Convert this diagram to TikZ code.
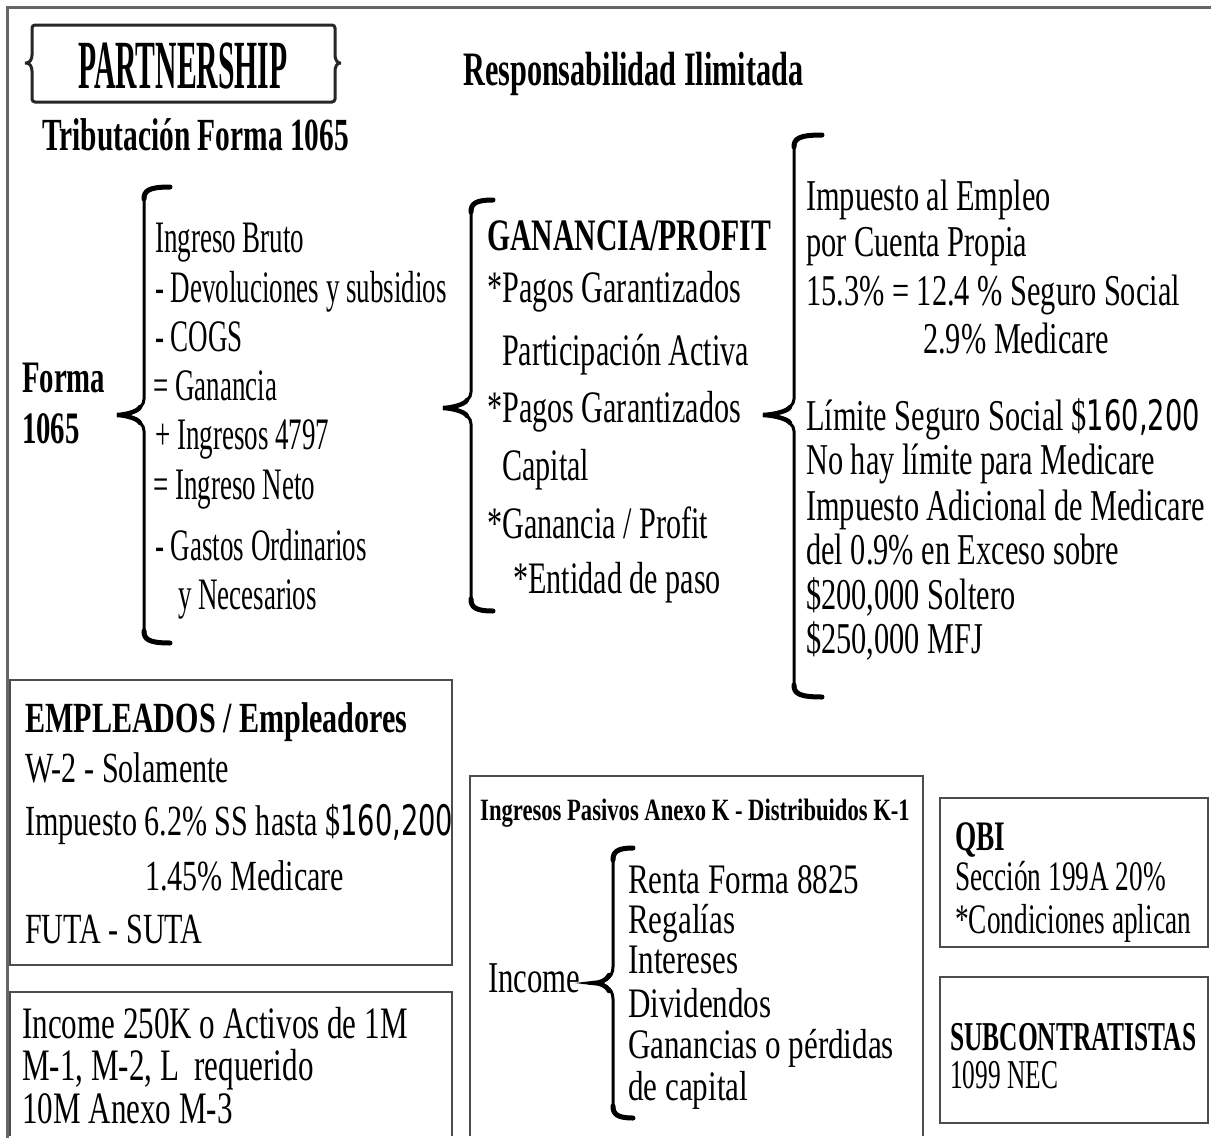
\documentclass[tikz,border=0pt]{standalone}
\usepackage{fontspec}
\setmainfont{Liberation Serif}
\newfontfamily\ffTitle{Liberation Serif}[FakeStretch=0.43]
\newfontfamily\ffA{Liberation Serif}[FakeStretch=0.60]
\newfontfamily\ffB{Liberation Serif}[FakeStretch=0.64]
\newfontfamily\ffC{Liberation Serif}[FakeStretch=0.63]
\newfontfamily\ffD{Liberation Serif}[FakeStretch=0.66]
\newfontfamily\ffE{Liberation Serif}[FakeStretch=0.67]
\newfontfamily\ffF{Liberation Serif}[FakeStretch=0.69]
\newfontfamily\ffG{Liberation Serif}[FakeStretch=0.70]
\newfontfamily\ffH{Liberation Serif}[FakeStretch=0.73]
\newfontfamily\ffM{Liberation Serif}[FakeStretch=0.74]
\newfontfamily\ffJ{Liberation Serif}[FakeStretch=0.65]
\newfontfamily\ffK{Liberation Serif}[FakeStretch=0.62]
\newfontfamily\ffDig{DejaVu Sans}[FakeStretch=0.65]
\newcommand\fz[1]{\fontsize{#1}{#1}\selectfont}
\newcommand\digs[1]{{\ffDig\fz{42}#1}}
% brace: #1 x of ends, #2 x of body, #3 x of tip, #4 y top, #5 y tip, #6 y bottom
\newcommand\mybrace[6]{%
  \draw[brc] (#1,#4) .. controls ({#2+4},#4) and (#2,{#4+4}) .. (#2,{#4+16})
    -- (#2,{#5-16}) .. controls (#2,{#5-4}) and ({#3+8},#5) .. (#3,#5)
    .. controls ({#3+8},#5) and (#2,{#5+4}) .. (#2,{#5+16})
    -- (#2,{#6-16}) .. controls (#2,{#6-4}) and ({#2+4},#6) .. (#1,#6);
  \draw[brc,line width=5pt] (#1,#4) .. controls ({#2+4},#4) and (#2,{#4+4}) .. (#2,{#4+12});
  \draw[brc,line width=5pt] (#1,#6) .. controls ({#2+4},#6) and (#2,{#6-4}) .. (#2,{#6-12});
  \draw[brc,line width=4.5pt] ({#2-4},{#5-8}) .. controls ({#2-6},{#5-3}) and ({#3+6},#5) .. (#3,#5)
    .. controls ({#3+6},#5) and ({#2-6},{#5+3}) .. ({#2-4},{#5+8});
}
\begin{document}
\begin{tikzpicture}[x=1pt,y=-1pt,
  txt/.style={inner sep=0pt,anchor=base west},
  boxl/.style={draw=black!70,line width=2.5pt},
  frm/.style={draw=black!60,line width=3pt},
  brc/.style={draw=black,line width=3pt,line cap=round}]
\useasboundingbox (0,0) rectangle (1211,1138);
\fill[white] (0,0) rectangle (1211,1138);

% outer frame
\coordinate (fa) at (7,1138);
\coordinate (fb) at (7,7);
\coordinate (fc) at (1211,7);
\draw[frm] (fa) -- (fb) -- (fc);

% title
\node[txt,font=\ffTitle\bfseries\fz{69}] (title) at (78,88) {PARTNERSHIP};
\draw[draw=black!85,line width=3pt,rounded corners=3pt]
  (32,25) -- (335,25) -- (335,52) .. controls (335,59) and (337,63) .. (343,63)
  .. controls (337,63) and (335,67) .. (335,74) -- (335,102) -- (32,102) -- (32,74)
  .. controls (32,67) and (30,63) .. (23,63) .. controls (30,63) and (32,59) .. (32,52) -- cycle;
\node[txt,font=\ffB\bfseries\fz{46}] (trib) at (42,150) {Tributación Forma 1065};
\node[txt,font=\ffC\bfseries\fz{48}] (resp) at (463,85) {Responsabilidad Ilimitada};

% Forma 1065
\node[txt,font=\ffB\bfseries\fz{45}] (forma) at (22,392) {Forma};
\node[txt,font=\ffB\bfseries\fz{45}] (f1065) at (22,443) {1065};
\mybrace{170}{144}{117}{187}{415}{643}

% left list
\begin{scope}[every node/.style={txt,font=\ffA\fz{45}}]
\node (l1) at (155,252) {Ingreso Bruto};
\node (l2) at (155,302) {- Devoluciones y subsidios};
\node (l3) at (155,351) {- COGS};
\node (l4) at (153,400) {= Ganancia};
\node (l5) at (155,449) {+ Ingresos 4797};
\node (l6) at (153,499) {= Ingreso Neto};
\node (l7) at (155,560) {- Gastos Ordinarios};
\node (l8) at (178,609) {y Necesarios};
\end{scope}

% middle brace and list
\mybrace{493}{471}{443}{200}{408}{611}
\node[txt,font=\ffD\bfseries\fz{45}] (m0) at (487,250) {GANANCIA/PROFIT};
\begin{scope}[every node/.style={txt,font=\ffE\fz{45}}]
\node (m1) at (487,302) {*Pagos Garantizados};
\node (m2) at (502,365) {Participación Activa};
\node (m3) at (487,422) {*Pagos Garantizados};
\node (m4) at (502,480) {Capital};
\node (m5) at (487,538) {*Ganancia / Profit};
\node (m6) at (513,593) {*Entidad de paso};
\end{scope}

% right brace and list
\mybrace{822}{794}{763}{135}{415}{697}
\begin{scope}[every node/.style={txt,font=\ffF\fz{44}}]
\node (r1) at (806,210) {Impuesto al Empleo};
\node (r2) at (806,256) {por Cuenta Propia};
\node (r3) at (806,305) {15.3\% = 12.4 \% Seguro Social};
\node (r4) at (923,353) {2.9\% Medicare};
\node (r5) at (806,430) {Límite Seguro Social \$\digs{160,200}};
\node (r6) at (806,474) {No hay límite para Medicare};
\node (r7) at (806,520) {Impuesto Adicional de Medicare};
\node (r8) at (806,564) {del 0.9\% en Exceso sobre};
\node (r9) at (806,609) {\$200,000 Soltero};
\node (r10) at (806,653) {\$250,000 MFJ};
\end{scope}

% EMPLEADOS box
\draw[boxl] (10,680) rectangle (452,965);
\node[txt,font=\ffG\bfseries\fz{43}] (e0) at (25,732) {EMPLEADOS / Empleadores};
\begin{scope}[every node/.style={txt,font=\ffG\fz{43}}]
\node (e1) at (25,782) {W-2 - Solamente};
\node (e2) at (25,835) {Impuesto 6.2\% SS hasta \$\digs{160,200}};
\node (e3) at (145,890) {1.45\% Medicare};
\node (e4) at (25,943) {FUTA - SUTA};
\end{scope}

% bottom-left box
\draw[boxl] (10,1136) -- (10,992) -- (452,992) -- (452,1136);
\begin{scope}[every node/.style={txt,font=\ffF\fz{45}}]
\node (b1) at (22,1038) {Income 250K o Activos de 1M};
\node (b2) at (22,1080) {M-1, M-2, L\ \ requerido};
\node (b3) at (22,1123) {10M Anexo M-3};
\end{scope}

% middle box
\draw[boxl] (470,1136) -- (470,776) -- (923,776) -- (923,1136);
\node[txt,font=\ffH\bfseries\fz{31}] (p0) at (480,820) {Ingresos Pasivos Anexo K - Distribuidos K-1};
\node[txt,font=\ffG\fz{44}] (inc) at (488,992) {Income};
\mybrace{633}{613}{594}{848}{983}{1118}
\coordinate (tipa) at (594,983);
\coordinate (tipb) at (589,983);
\draw[brc] (tipa) -- (tipb);
\begin{scope}[every node/.style={txt,font=\ffM\fz{42}}]
\node (p1) at (628,893) {Renta Forma 8825};
\node (p2) at (628,933) {Regalías};
\node (p3) at (628,973) {Intereses};
\node (p4) at (628,1017) {Dividendos};
\node (p5) at (628,1058) {Ganancias o pérdidas};
\node (p6) at (628,1100) {de capital};
\end{scope}

% QBI box
\draw[boxl] (940,798) rectangle (1208,947);
\node[txt,font=\ffJ\bfseries\fz{42}] (q0) at (955,850) {QBI};
\node[txt,font=\ffJ\fz{42}] (q1) at (955,890) {Sección 199A 20\%};
\node[txt,font=\ffJ\fz{42}] (q2) at (955,933) {*Condiciones aplican};

% SUBCONTRATISTAS box
\draw[boxl] (940,977) rectangle (1208,1123);
\node[txt,font=\ffK\bfseries\fz{41}] (s0) at (950,1050) {SUBCONTRATISTAS};
\node[txt,font=\ffK\fz{41}] (s1) at (950,1088) {1099 NEC};
\end{tikzpicture}
\end{document}
